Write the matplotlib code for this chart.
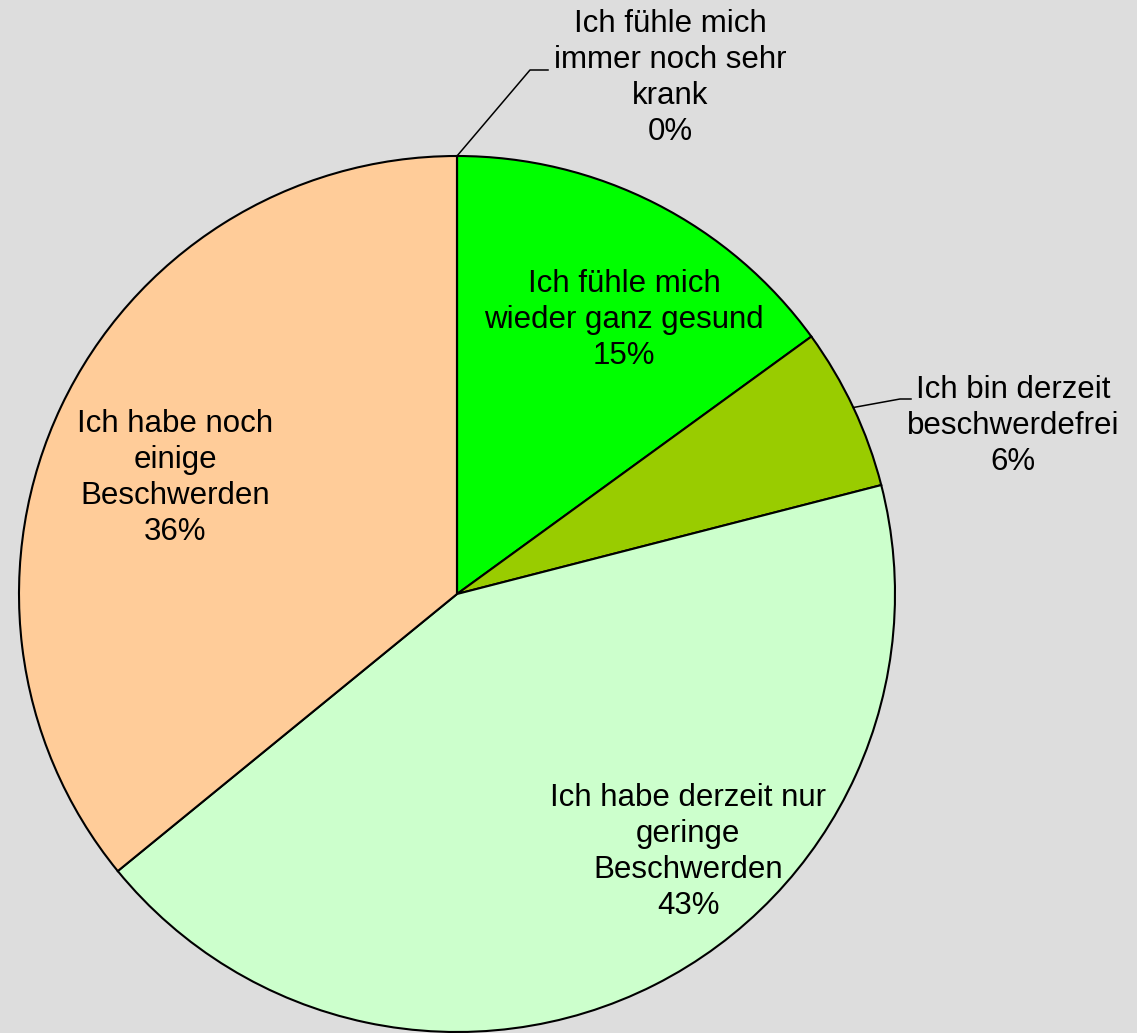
import numpy as np
import matplotlib.pyplot as plt

labels = ['Ich fühle mich\nwieder ganz gesund', 'Ich bin derzeit\nbeschwerdefrei',
          'Ich habe derzeit nur\ngeringe\nBeschwerden', 'Ich habe noch\neinige\nBeschwerden',
          'Ich fühle mich\nimmer noch sehr\nkrank']
values = [15.0, 6.0, 43.1, 35.9, 0.0]
pct_text = ['15%', '6%', '43%', '36%', '0%']
colors = ['#00FF00', '#99CC00', '#CCFFCC', '#FFCC99', '#FF0000']

W, H = 1137, 1033
CX, CY, R = 457, 594, 438
bg = '#DDDDDD'

def px(x, y):
    return (x - CX) / R, (CY - y) / R

plt.rcParams['font.family'] = ['Liberation Sans', 'DejaVu Sans']
fig = plt.figure(figsize=(W / 100, H / 100), dpi=100, facecolor=bg)
ax = fig.add_axes([0, 0, 1, 1])
ax.set_facecolor(bg)
ax.axis('off')

wedges, _ = ax.pie(values, colors=colors, startangle=90, counterclock=False, radius=1,
                   wedgeprops=dict(edgecolor='black', linewidth=1.5), normalize=True)
ax.set_xlim(-CX / R, (W - CX) / R)
ax.set_ylim(-(H - CY) / R, CY / R)
ax.set_aspect('auto')

# label centres (pixels)
label_pos = [(624, 320), (1013, 426), (688, 852), (175, 478), (670, 78)]
fs = 22.5
for i, (lab, p) in enumerate(zip(labels, pct_text)):
    x, y = px(*label_pos[i])
    ax.text(x, y, lab + '\n' + p, ha='center', va='center', fontsize=fs,
            linespacing=1.27, color='black')

# leader lines for outside labels
def mid_angle(w):
    return np.deg2rad((w.theta1 + w.theta2) / 2)

for idx, elbow, end in [(4, (530, 70), (548, 70)), (1, (900, 399), (911, 399))]:
    a = mid_angle(wedges[idx])
    x0, y0 = np.cos(a), np.sin(a)
    ex, ey = px(*elbow)
    tx, ty = px(*end)
    ax.plot([x0, ex, tx], [y0, ey, ty], color='black', linewidth=1.1)

fig.savefig('out.png', dpi=100, facecolor=bg)
